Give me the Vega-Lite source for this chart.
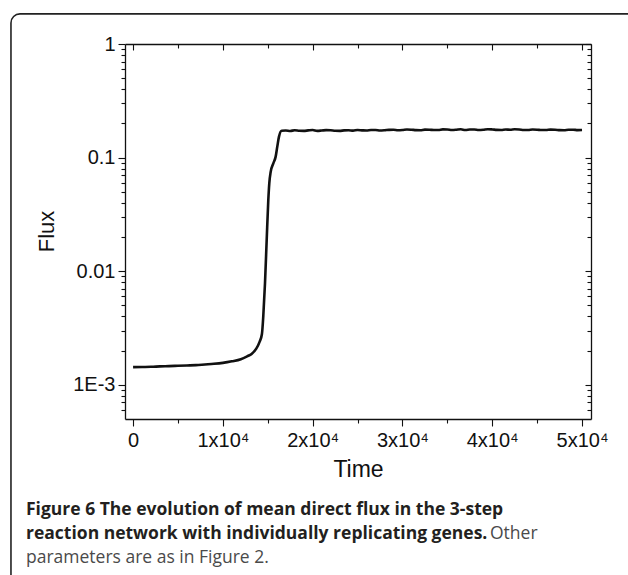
{
  "$schema": "https://vega.github.io/schema/vega-lite/v6.json",
  "width": 466,
  "height": 375,
  "autosize": {"type": "none"},
  "padding": {"left": 125, "top": 44, "right": 37, "bottom": 156},
  "background": "white",
  "config": {
    "view": {"stroke": null},
    "axis": {
      "grid": false,
      "labelFont": "Liberation Sans",
      "titleFont": "Liberation Sans",
      "labelColor": "#111",
      "titleColor": "#111",
      "tickColor": "#111",
      "domainColor": "#111",
      "titleFontWeight": "normal",
      "labelFlush": false,
      "labelOverlap": false,
      "tickWidth": 1.1,
      "domainWidth": 1.3
    }
  },
  "datasets": {
    "flux": [
      {"t": 0, "flux": 0.00143},
      {"t": 1000, "flux": 0.001435},
      {"t": 2000, "flux": 0.00144},
      {"t": 3000, "flux": 0.001452},
      {"t": 4000, "flux": 0.00146},
      {"t": 5000, "flux": 0.00147},
      {"t": 6000, "flux": 0.00148},
      {"t": 7000, "flux": 0.00149},
      {"t": 8000, "flux": 0.00151},
      {"t": 9000, "flux": 0.00153},
      {"t": 10000, "flux": 0.00156},
      {"t": 11000, "flux": 0.00161},
      {"t": 12000, "flux": 0.00168},
      {"t": 12700, "flux": 0.00178},
      {"t": 13200, "flux": 0.00187},
      {"t": 13700, "flux": 0.00207},
      {"t": 14100, "flux": 0.0024},
      {"t": 14350, "flux": 0.0028},
      {"t": 14500, "flux": 0.004},
      {"t": 14690, "flux": 0.0078},
      {"t": 14880, "flux": 0.0188},
      {"t": 15060, "flux": 0.0423},
      {"t": 15170, "flux": 0.0594},
      {"t": 15330, "flux": 0.0752},
      {"t": 15620, "flux": 0.089},
      {"t": 15880, "flux": 0.102},
      {"t": 16060, "flux": 0.125},
      {"t": 16250, "flux": 0.153},
      {"t": 16550, "flux": 0.1725},
      {"t": 17000, "flux": 0.173},
      {"t": 17500, "flux": 0.1715},
      {"t": 18000, "flux": 0.174},
      {"t": 18500, "flux": 0.1725},
      {"t": 19000, "flux": 0.172},
      {"t": 19500, "flux": 0.1735},
      {"t": 20000, "flux": 0.175},
      {"t": 20500, "flux": 0.172},
      {"t": 21000, "flux": 0.173},
      {"t": 21500, "flux": 0.1745},
      {"t": 22000, "flux": 0.174},
      {"t": 22500, "flux": 0.1725},
      {"t": 23000, "flux": 0.172},
      {"t": 23500, "flux": 0.1735},
      {"t": 24000, "flux": 0.174},
      {"t": 24500, "flux": 0.1728},
      {"t": 25000, "flux": 0.175},
      {"t": 25500, "flux": 0.1738},
      {"t": 26000, "flux": 0.173},
      {"t": 26500, "flux": 0.1748},
      {"t": 27000, "flux": 0.175},
      {"t": 27500, "flux": 0.1732},
      {"t": 28000, "flux": 0.174},
      {"t": 28500, "flux": 0.1755},
      {"t": 29000, "flux": 0.176},
      {"t": 29500, "flux": 0.1742},
      {"t": 30000, "flux": 0.175},
      {"t": 30500, "flux": 0.1768},
      {"t": 31000, "flux": 0.176},
      {"t": 31500, "flux": 0.1745},
      {"t": 32000, "flux": 0.174},
      {"t": 32500, "flux": 0.1762},
      {"t": 33000, "flux": 0.176},
      {"t": 33500, "flux": 0.1748},
      {"t": 34000, "flux": 0.175},
      {"t": 34500, "flux": 0.1772},
      {"t": 35000, "flux": 0.177},
      {"t": 35500, "flux": 0.1752},
      {"t": 36000, "flux": 0.176},
      {"t": 36500, "flux": 0.1774},
      {"t": 37000, "flux": 0.175},
      {"t": 37500, "flux": 0.1765},
      {"t": 38000, "flux": 0.177},
      {"t": 38500, "flux": 0.1752},
      {"t": 39000, "flux": 0.176},
      {"t": 39500, "flux": 0.1778},
      {"t": 40000, "flux": 0.177},
      {"t": 40500, "flux": 0.1755},
      {"t": 41000, "flux": 0.175},
      {"t": 41500, "flux": 0.1768},
      {"t": 42000, "flux": 0.176},
      {"t": 42500, "flux": 0.1775},
      {"t": 43000, "flux": 0.177},
      {"t": 43500, "flux": 0.1752},
      {"t": 44000, "flux": 0.175},
      {"t": 44500, "flux": 0.1766},
      {"t": 45000, "flux": 0.176},
      {"t": 45500, "flux": 0.1748},
      {"t": 46000, "flux": 0.175},
      {"t": 46500, "flux": 0.1764},
      {"t": 47000, "flux": 0.176},
      {"t": 47500, "flux": 0.1745},
      {"t": 48000, "flux": 0.174},
      {"t": 48500, "flux": 0.1758},
      {"t": 49000, "flux": 0.176},
      {"t": 49500, "flux": 0.1746},
      {"t": 50000, "flux": 0.175}
    ]
  },
  "resolve": {"axis": {"x": "independent", "y": "independent"}},
  "layer": [
    {
      "data": {"values": [{"frame": "box"}]},
      "mark": {"type": "rect", "filled": false, "color": "#222", "strokeWidth": 1.6, "cornerRadius": 9, "clip": false},
      "encoding": {
        "x": {"datum": -13600, "type": "quantitative", "axis": null},
        "x2": {"datum": 60000},
        "y": {"datum": 1.84, "type": "quantitative", "axis": null},
        "y2": {"datum": 0.00001}
      }
    },
    {
      "data": {"name": "flux"},
      "mark": {"type": "line", "color": "#111", "strokeWidth": 2.6, "interpolate": "monotone"},
      "encoding": {
        "x": {
          "field": "t", "type": "quantitative",
          "scale": {"domain": [-900, 51000], "nice": false, "zero": false},
          "axis": {
            "orient": "bottom",
            "values": [0, 10000, 20000, 30000, 40000, 50000],
            "labelExpr": "datum.value == 0 ? '0' : format(datum.value / 10000, 'd') + 'x10⁴'",
            "labelFontSize": 20,
            "labelPadding": 4,
            "tickSize": 7,
            "title": "Time",
            "titleFontSize": 23,
            "titleBaseline": "alphabetic",
            "titleY": 57
          }
        },
        "y": {
          "field": "flux", "type": "quantitative",
          "scale": {"type": "log", "domain": [0.0005, 1], "nice": false},
          "axis": {
            "orient": "left",
            "values": [0.001, 0.01, 0.1, 1],
            "labelExpr": "datum.value < 0.005 ? '1E-3' : format(datum.value, '~g')",
            "labelFontSize": 20,
            "labelPadding": 3,
            "tickSize": 7,
            "title": "Flux",
            "titleFontSize": 22,
            "titleX": -67,
            "titleY": 187
          }
        }
      }
    },
    {
      "data": {"name": "flux"},
      "mark": {"type": "line", "strokeOpacity": 0},
      "encoding": {
        "x": {"field": "t", "type": "quantitative",
          "axis": {"orient": "bottom", "values": [5000, 15000, 25000, 35000, 45000], "labels": false, "domain": false, "tickSize": 4, "title": null}},
        "y": {"field": "flux", "type": "quantitative",
          "axis": {"orient": "left", "values": [0.0006, 0.0007, 0.0008, 0.0009, 0.002, 0.003, 0.004, 0.005, 0.006, 0.007, 0.008, 0.009, 0.02, 0.03, 0.04, 0.05, 0.06, 0.07, 0.08, 0.09, 0.2, 0.3, 0.4, 0.5, 0.6, 0.7, 0.8, 0.9], "labels": false, "domain": false, "tickSize": 4, "title": null}}
      }
    },
    {
      "data": {"name": "flux"},
      "mark": {"type": "line", "strokeOpacity": 0},
      "encoding": {
        "x": {"field": "t", "type": "quantitative",
          "axis": {"orient": "top", "values": [0, 10000, 20000, 30000, 40000, 50000], "labels": false, "domain": true, "tickSize": -6, "title": null}},
        "y": {"field": "flux", "type": "quantitative",
          "axis": {"orient": "right", "values": [0.001, 0.01, 0.1, 1], "labels": false, "domain": true, "tickSize": -6, "title": null}}
      }
    },
    {
      "data": {"name": "flux"},
      "mark": {"type": "line", "strokeOpacity": 0},
      "encoding": {
        "x": {"field": "t", "type": "quantitative",
          "axis": {"orient": "top", "values": [5000, 15000, 25000, 35000, 45000], "labels": false, "domain": false, "tickSize": -4, "title": null}},
        "y": {"field": "flux", "type": "quantitative",
          "axis": {"orient": "right", "values": [0.0006, 0.0007, 0.0008, 0.0009, 0.002, 0.003, 0.004, 0.005, 0.006, 0.007, 0.008, 0.009, 0.02, 0.03, 0.04, 0.05, 0.06, 0.07, 0.08, 0.09, 0.2, 0.3, 0.4, 0.5, 0.6, 0.7, 0.8, 0.9], "labels": false, "domain": false, "tickSize": -4, "title": null}}
      }
    },
    {
      "data": {"values": [{"caption": "Figure 6 The evolution of mean direct flux in the 3-step\nreaction network with individually replicating genes."}]},
      "mark": {"type": "text", "align": "left", "baseline": "alphabetic", "font": "Open Sans", "fontSize": 17.5, "fontWeight": "bold", "color": "#231f20", "lineBreak": "\n", "lineHeight": 24, "clip": false},
      "encoding": {
        "x": {"datum": -11926, "type": "quantitative", "axis": null},
        "y": {"datum": 0.0000714, "type": "quantitative", "axis": null},
        "text": {"field": "caption"}
      }
    },
    {
      "data": {"values": [{"caption": "Other"}]},
      "mark": {"type": "text", "align": "left", "baseline": "alphabetic", "font": "Open Sans", "fontSize": 17.5, "fontWeight": "normal", "color": "#4a4a4a", "clip": false},
      "encoding": {
        "x": {"datum": 39750, "type": "quantitative", "axis": null},
        "y": {"datum": 0.0000439, "type": "quantitative", "axis": null},
        "text": {"field": "caption"}
      }
    },
    {
      "data": {"values": [{"caption": "parameters are as in Figure 2."}]},
      "mark": {"type": "text", "align": "left", "baseline": "alphabetic", "font": "Open Sans", "fontSize": 17.5, "fontWeight": "normal", "color": "#4a4a4a", "clip": false},
      "encoding": {
        "x": {"datum": -11926, "type": "quantitative", "axis": null},
        "y": {"datum": 0.000027, "type": "quantitative", "axis": null},
        "text": {"field": "caption"}
      }
    }
  ]
}
